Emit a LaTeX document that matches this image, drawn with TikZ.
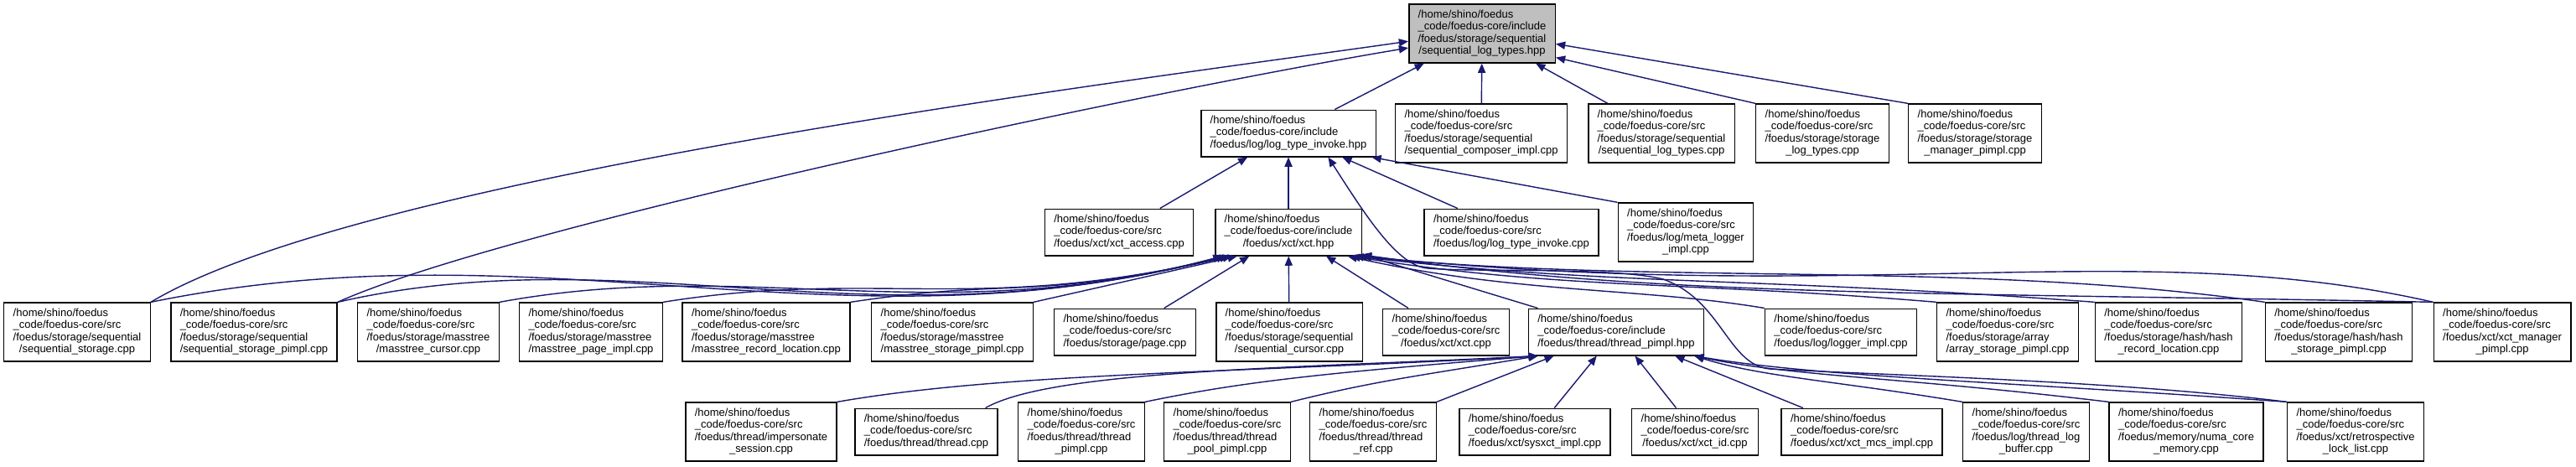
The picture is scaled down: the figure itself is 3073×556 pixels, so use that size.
\documentclass[tikz,border=0pt]{standalone}
\usepackage{fontspec}
\setmainfont{Liberation Sans}
\usetikzlibrary{arrows.meta}
\definecolor{edgeblue}{HTML}{191970}
\definecolor{rootgray}{HTML}{BFBFBF}
% all lines left aligned, the last one centred
\newcommand{\flabel}[2]{\begin{tabular}{@{}l@{}}#1\\\multicolumn{1}{@{}c@{}}{#2}\end{tabular}}

\begin{document}
\begin{tikzpicture}[
 x=0.01cm, y=0.01cm,
 incbox/.style={rectangle, draw, line width=0.4pt, fill=white, inner xsep=3.1pt, inner ysep=1.8pt, font=\fontsize{3.7}{4.07}\selectfont},
 rootbox/.style={incbox, fill=rootgray},
 arr/.style={->, >={Triangle[length=3.2pt,width=2.6pt]}, edgeblue, line width=0.4pt},
]
\useasboundingbox (0,0) rectangle (3073,556);

\node[rootbox] (root) at (1768,516) {\flabel{/home/shino/foedus\\\_code/foedus-core/include\\/foedus/storage/sequential}{/sequential\_log\_types.hpp}};

\node[incbox] (lti_hpp) at (1537,397) {\flabel{/home/shino/foedus\\\_code/foedus-core/include}{/foedus/log/log\_type\_invoke.hpp}};
\node[incbox] (seqcomp) at (1767,397) {\flabel{/home/shino/foedus\\\_code/foedus-core/src\\/foedus/storage/sequential}{/sequential\_composer\_impl.cpp}};
\node[incbox] (seqlogcpp) at (1982,397) {\flabel{/home/shino/foedus\\\_code/foedus-core/src\\/foedus/storage/sequential}{/sequential\_log\_types.cpp}};
\node[incbox] (stlogtypes) at (2174,397) {\flabel{/home/shino/foedus\\\_code/foedus-core/src\\/foedus/storage/storage}{\_log\_types.cpp}};
\node[incbox] (stmgr) at (2356,397) {\flabel{/home/shino/foedus\\\_code/foedus-core/src\\/foedus/storage/storage}{\_manager\_pimpl.cpp}};

\node[incbox] (xctaccess) at (1335,279) {\flabel{/home/shino/foedus\\\_code/foedus-core/src}{/foedus/xct/xct\_access.cpp}};
\node[incbox] (xcthpp) at (1537,279) {\flabel{/home/shino/foedus\\\_code/foedus-core/include}{/foedus/xct/xct.hpp}};
\node[incbox] (lticpp) at (1803,279) {\flabel{/home/shino/foedus\\\_code/foedus-core/src}{/foedus/log/log\_type\_invoke.cpp}};
\node[incbox] (metalogger) at (2011,279) {\flabel{/home/shino/foedus\\\_code/foedus-core/src\\/foedus/log/meta\_logger}{\_impl.cpp}};

\node[incbox] (seqstorage) at (92,160) {\flabel{/home/shino/foedus\\\_code/foedus-core/src\\/foedus/storage/sequential}{/sequential\_storage.cpp}};
\node[incbox] (seqstoragepimpl) at (303,160) {\flabel{/home/shino/foedus\\\_code/foedus-core/src\\/foedus/storage/sequential}{/sequential\_storage\_pimpl.cpp}};
\node[incbox] (mtcursor) at (511,160) {\flabel{/home/shino/foedus\\\_code/foedus-core/src\\/foedus/storage/masstree}{/masstree\_cursor.cpp}};
\node[incbox] (mtpage) at (705,160) {\flabel{/home/shino/foedus\\\_code/foedus-core/src\\/foedus/storage/masstree}{/masstree\_page\_impl.cpp}};
\node[incbox] (mtrecloc) at (914,160) {\flabel{/home/shino/foedus\\\_code/foedus-core/src\\/foedus/storage/masstree}{/masstree\_record\_location.cpp}};
\node[incbox] (mtstorage) at (1136,160) {\flabel{/home/shino/foedus\\\_code/foedus-core/src\\/foedus/storage/masstree}{/masstree\_storage\_pimpl.cpp}};
\node[incbox] (page) at (1342,160) {\flabel{/home/shino/foedus\\\_code/foedus-core/src}{/foedus/storage/page.cpp}};
\node[incbox] (seqcursor) at (1538,160) {\flabel{/home/shino/foedus\\\_code/foedus-core/src\\/foedus/storage/sequential}{/sequential\_cursor.cpp}};
\node[incbox] (xctcpp) at (1725,160) {\flabel{/home/shino/foedus\\\_code/foedus-core/src}{/foedus/xct/xct.cpp}};
\node[incbox] (threadhpp) at (1928,160) {\flabel{/home/shino/foedus\\\_code/foedus-core/include}{/foedus/thread/thread\_pimpl.hpp}};
\node[incbox] (loggerimpl) at (2196,160) {\flabel{/home/shino/foedus\\\_code/foedus-core/src}{/foedus/log/logger\_impl.cpp}};
\node[incbox] (arraypimpl) at (2395,160) {\flabel{/home/shino/foedus\\\_code/foedus-core/src\\/foedus/storage/array}{/array\_storage\_pimpl.cpp}};
\node[incbox] (hashrec) at (2587,160) {\flabel{/home/shino/foedus\\\_code/foedus-core/src\\/foedus/storage/hash/hash}{\_record\_location.cpp}};
\node[incbox] (hashstorage) at (2790,160) {\flabel{/home/shino/foedus\\\_code/foedus-core/src\\/foedus/storage/hash/hash}{\_storage\_pimpl.cpp}};
\node[incbox] (xctmgr) at (2985,160) {\flabel{/home/shino/foedus\\\_code/foedus-core/src\\/foedus/xct/xct\_manager}{\_pimpl.cpp}};

\node[incbox] (impersonate) at (908,41) {\flabel{/home/shino/foedus\\\_code/foedus-core/src\\/foedus/thread/impersonate}{\_session.cpp}};
\node[incbox] (threadcpp) at (1105,41) {\flabel{/home/shino/foedus\\\_code/foedus-core/src}{/foedus/thread/thread.cpp}};
\node[incbox] (threadpimplcpp) at (1290,41) {\flabel{/home/shino/foedus\\\_code/foedus-core/src\\/foedus/thread/thread}{\_pimpl.cpp}};
\node[incbox] (threadpool) at (1464,41) {\flabel{/home/shino/foedus\\\_code/foedus-core/src\\/foedus/thread/thread}{\_pool\_pimpl.cpp}};
\node[incbox] (threadref) at (1638,41) {\flabel{/home/shino/foedus\\\_code/foedus-core/src\\/foedus/thread/thread}{\_ref.cpp}};
\node[incbox] (sysxct) at (1831,41) {\flabel{/home/shino/foedus\\\_code/foedus-core/src}{/foedus/xct/sysxct\_impl.cpp}};
\node[incbox] (xctid) at (2022,41) {\flabel{/home/shino/foedus\\\_code/foedus-core/src}{/foedus/xct/xct\_id.cpp}};
\node[incbox] (xctmcs) at (2221,41) {\flabel{/home/shino/foedus\\\_code/foedus-core/src}{/foedus/xct/xct\_mcs\_impl.cpp}};
\node[incbox] (threadlog) at (2417,41) {\flabel{/home/shino/foedus\\\_code/foedus-core/src\\/foedus/log/thread\_log}{\_buffer.cpp}};
\node[incbox] (numa) at (2608,41) {\flabel{/home/shino/foedus\\\_code/foedus-core/src\\/foedus/memory/numa\_core}{\_memory.cpp}};
\node[incbox] (retro) at (2810,41) {\flabel{/home/shino/foedus\\\_code/foedus-core/src\\/foedus/xct/retrospective}{\_lock\_list.cpp}};

% sequential_log_types.hpp
\draw[arr] (lti_hpp) -- (root);
\draw[arr] (seqcomp) -- (root);
\draw[arr] (seqlogcpp) -- (root);
\draw[arr] (stlogtypes.north west) -- (root.-18);
\draw[arr] (stmgr.north west) -- (root.-8);
\draw[arr] (seqstorage.north east) .. controls +(250,150) and +(-350,-50) .. (root.186);
\draw[arr] (seqstoragepimpl.north east) .. controls +(200,90) and +(-300,-50) .. (root.191);

% log_type_invoke.hpp
\draw[arr] (xctaccess) -- (lti_hpp);
\draw[arr] (xcthpp) -- (lti_hpp);
\draw[arr] (lticpp) -- (lti_hpp);
\draw[arr] (metalogger.north west) -- (lti_hpp.-16);
\draw[arr] (retro.north west) .. controls +(-200,25) and +(150,-8) .. (2111,116)
  .. controls +(-50,5) and +(70,-25) .. (1984,223)
  .. controls +(-60,15) and +(60,-5) .. (1703,236)
  .. controls +(-36,3) and +(45,-70) .. (lti_hpp.-31);

% xct.hpp
\draw[arr] (seqstorage.north east) .. controls +(470,96) and +(-455,-120) .. (xcthpp.200);
\draw[arr] (seqstoragepimpl.north east) .. controls +(350,80) and +(-420,-110) .. (xcthpp.200);
\draw[arr] (mtcursor.north east) .. controls +(300,55) and +(-350,-90) .. (xcthpp.201);
\draw[arr] (mtpage.north east) .. controls +(250,40) and +(-300,-70) .. (xcthpp.202);
\draw[arr] (mtrecloc.north east) .. controls +(200,30) and +(-250,-55) .. (xcthpp.203);
\draw[arr] (mtstorage.north east) -- (xcthpp.205);
\draw[arr] (page) -- (xcthpp);
\draw[arr] (seqcursor) -- (xcthpp);
\draw[arr] (xctcpp) -- (xcthpp);
\draw[arr] (threadhpp) -- (xcthpp);
\draw[arr] (loggerimpl.north west) .. controls +(-150,25) and +(200,-45) .. (xcthpp.-22);
\draw[arr] (arraypimpl.north west) .. controls +(-300,25) and +(250,-40) .. (xcthpp.-21);
\draw[arr] (hashrec.north west) .. controls +(-400,30) and +(300,-35) .. (xcthpp.-20);
\draw[arr] (hashstorage.north west) .. controls +(-350,50) and +(350,-35) .. (xcthpp.-19);
\draw[arr] (xctmgr.north west) .. controls +(-350,80) and +(600,-60) .. (xcthpp.-18);
\draw[arr] (xctmgr.north west) .. controls +(-600,12) and +(350,-50) .. (xcthpp.-17);

% thread_pimpl.hpp
\draw[arr] (impersonate.north east) .. controls +(200,35) and +(-350,-20) .. (threadhpp.197);
\draw[arr] (threadcpp.22) .. controls +(80,45) and +(-300,-15) .. (threadhpp.197);
\draw[arr] (threadpimplcpp.north east) .. controls +(120,25) and +(-250,-20) .. (threadhpp.197);
\draw[arr] (threadpool.north east) .. controls +(100,25) and +(-150,-25) .. (threadhpp.197);
\draw[arr] (threadref.north east) -- (threadhpp.201);
\draw[arr] (sysxct) -- (threadhpp);
\draw[arr] (xctid) -- (threadhpp);
\draw[arr] (xctmcs) -- (threadhpp);
\draw[arr] (threadlog.north west) .. controls +(-150,25) and +(80,-25) .. (threadhpp.-17);
\draw[arr] (numa.north west) .. controls +(-250,30) and +(120,-25) .. (threadhpp.-17);
\draw[arr] (retro.north west) .. controls +(-350,25) and +(150,-25) .. (threadhpp.-17);

\end{tikzpicture}
\end{document}
